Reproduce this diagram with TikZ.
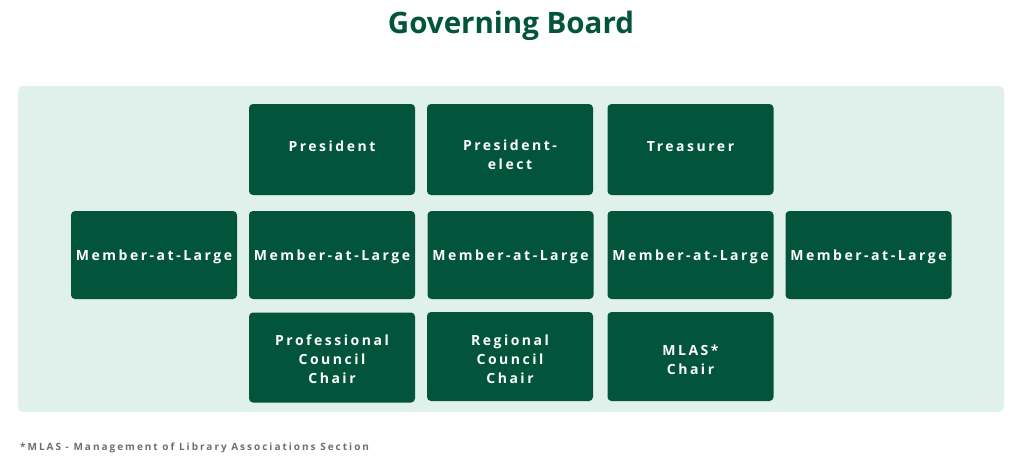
\documentclass[tikz,border=0pt]{standalone}
\usepackage{fontspec}
\setmainfont{Open Sans}
\newfontfamily\titlefont{Open Sans}[BoldFont={* Bold}]
\newfontfamily\boxfont{Open Sans}[LetterSpace=18,BoldFont={* Bold}]
\newfontfamily\notefont{Open Sans}[LetterSpace=20,BoldFont={* Bold}]
\definecolor{dgreen}{HTML}{02543A}
\definecolor{panel}{HTML}{E0F0EA}
\definecolor{notegray}{HTML}{6E6E6E}
\tikzset{
  panelbox/.style={fill=panel, rounded corners=5pt},
  role/.style={fill=dgreen, rounded corners=4pt, minimum width=166pt, minimum height=90pt, inner sep=0pt},
  roletext/.style={text=white, align=center, font=\boxfont\bfseries\fontsize{14}{19}\selectfont, inner sep=0pt}
}
\begin{document}
\begin{tikzpicture}[x=1pt,y=-1pt]
\useasboundingbox (0,0) rectangle (1024,472);
\node[text=dgreen, font=\titlefont\bfseries\fontsize{29.5}{32}\selectfont, inner sep=0pt] (title) at (511,26) {Governing Board};
\path[panelbox] (18,86) rectangle (1004,412);
% row 1
\node[role, minimum height=91pt] (pres) at (332,149.5) {};
\node[role, minimum height=91pt] (prese) at (510,149.5) {};
\node[role, minimum height=91pt] (treas) at (690.5,149.5) {};
\node[roletext] (presT) at (332,146.5) {President};
\node[roletext, anchor=north] (preseT) at (510,139.5) {President-\\elect};
\node[roletext] (treasT) at (690.5,146.5) {Treasurer};
% row 2
\node[role, minimum height=88pt] (m1) at (154,255) {};
\node[role, minimum height=88pt] (m2) at (332,255) {};
\node[role, minimum height=88pt] (m3) at (510.5,255) {};
\node[role, minimum height=88pt] (m4) at (690.5,255) {};
\node[role, minimum height=88pt] (m5) at (868.5,255) {};
\node[roletext] (m1T) at (154,257) {Member-at-Large};
\node[roletext] (m2T) at (332,257) {Member-at-Large};
\node[roletext] (m3T) at (510.5,257) {Member-at-Large};
\node[roletext] (m4T) at (690.5,257) {Member-at-Large};
\node[roletext] (m5T) at (868.5,257) {Member-at-Large};
% row 3
\node[role] (pcc) at (332,357.5) {};
\node[role, minimum height=89pt] (rcc) at (510,356.5) {};
\node[role, minimum height=89pt] (mlas) at (690.5,356.5) {};
\node[roletext] (pccT) at (332,359) {Professional\\Council\\Chair};
\node[roletext] (rccT) at (510,359) {Regional\\Council\\Chair};
\node[roletext] (mlasT) at (690.5,359.5) {MLAS*\\Chair};
% footnote
\node[anchor=west, text=notegray, font=\notefont\bfseries\fontsize{10}{11}\selectfont, inner sep=0pt] (note) at (20,448) {*MLAS - Management of Library Associations Section};
\end{tikzpicture}
\end{document}
